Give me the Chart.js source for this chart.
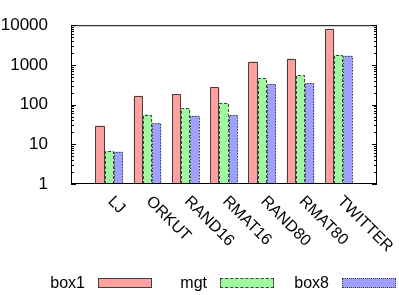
<!DOCTYPE html>
<html>
<head>
<meta charset="utf-8">
<script src="https://cdn.jsdelivr.net/npm/chart.js@4/dist/chart.umd.min.js"></script>
<style>
  body { margin: 0; background: #fff; }
  #wrap { position: relative; width: 399px; height: 295px; }
  #legend {
    position: absolute; left: 40px; top: 274px;
    display: flex; font: 16px "Liberation Sans", Arial, sans-serif; color: #000;
  }
  .item { display: flex; align-items: center; width: 122px; }
  .item .txt { width: 45px; text-align: right; line-height: 18px; }
  .item .sw { width: 52px; height: 8px; margin-left: 13px; border: 1px solid #404040; }
</style>
</head>
<body>
<div id="wrap">
  <canvas id="chart" width="399" height="295"></canvas>
  <div id="legend"></div>
</div>
<script>
// datos (escala log)
const categories = ['LJ', 'ORKUT', 'RAND16', 'RMAT16', 'RAND80', 'RMAT80', 'TWITTER'];
const box1 = [29.5, 166, 184, 270, 1210, 1420, 8100];
const mgt = [6.8, 56, 80, 111, 465, 550, 1810];
const box8 = [6.5, 34, 52, 55, 330, 350, 1690];
const yTicks = [1, 10, 100, 1000, 10000];

// un hueco vacio a cada lado, como en gnuplot
const labels = ['', ...categories, ''];
const pad = arr => [null, ...arr, null];

// bordes de las barras (rayados / punteados)
const barBorders = {
  id: 'barBorders',
  afterDatasetsDraw(chart) {
    const ctx = chart.ctx;
    chart.data.datasets.forEach((ds, i) => {
      const meta = chart.getDatasetMeta(i);
      ctx.save();
      ctx.strokeStyle = '#404040';
      ctx.lineWidth = 1;
      ctx.setLineDash(ds.dash);
      meta.data.forEach((el, j) => {
        if (ds.data[j] == null) return;
        const p = el.getProps(['x', 'y', 'base', 'width'], true);
        const l = Math.round(p.x - p.width / 2) + 0.5;
        const r = Math.round(p.x + p.width / 2) - 0.5;
        const t = Math.round(p.y) + 0.5;
        const b = Math.round(p.base);
        ctx.beginPath();
        ctx.moveTo(l, b);
        ctx.lineTo(l, t);
        ctx.lineTo(r, t);
        ctx.lineTo(r, b);
        ctx.stroke();
      });
      ctx.restore();
    });
  }
};

// marco, marcas hacia dentro y etiquetas rotadas del eje x
const frame = {
  id: 'frame',
  afterDraw(chart) {
    const ctx = chart.ctx;
    const a = chart.chartArea;
    const y = chart.scales.y;
    const x = chart.scales.x;
    ctx.save();
    ctx.strokeStyle = '#000';
    ctx.lineWidth = 1;
    ctx.strokeRect(a.left + 0.5, a.top + 0.5, a.right - a.left - 1, a.bottom - a.top - 1);
    ctx.beginPath();
    for (let k = 0; k < yTicks.length; k++) {
      const v = yTicks[k];
      const py = Math.round(y.getPixelForValue(v)) + 0.5;
      ctx.moveTo(a.left, py); ctx.lineTo(a.left + 5, py);
      ctx.moveTo(a.right, py); ctx.lineTo(a.right - 5, py);
      if (k === yTicks.length - 1) break;
      for (let m = 2; m < 10; m++) {
        const my = Math.round(y.getPixelForValue(v * m)) + 0.5;
        ctx.moveTo(a.left, my); ctx.lineTo(a.left + 3, my);
        ctx.moveTo(a.right, my); ctx.lineTo(a.right - 3, my);
      }
    }
    ctx.stroke();

    ctx.fillStyle = '#000';
    ctx.font = '16px "Liberation Sans", Arial, sans-serif';
    ctx.textAlign = 'left';
    ctx.textBaseline = 'middle';
    categories.forEach((c, i) => {
      const px = x.getPixelForValue(i + 1);
      ctx.save();
      ctx.translate(px + 1, a.bottom + 15);
      ctx.rotate(Math.PI / 4);
      ctx.fillText(c, 0, 0);
      ctx.restore();
    });
    ctx.restore();
  }
};

const chart = new Chart(document.getElementById('chart'), {
  type: 'bar',
  data: {
    labels: labels,
    datasets: [
      { label: 'box1', data: pad(box1), backgroundColor: '#ffa0a0', borderWidth: 0, dash: [], css: 'solid' },
      { label: 'mgt', data: pad(mgt), backgroundColor: '#a0f8a0', borderWidth: 0, dash: [3, 2], css: 'dashed' },
      { label: 'box8', data: pad(box8), backgroundColor: '#a0a0ff', borderWidth: 0, dash: [1.5, 1.5], css: 'dotted' }
    ]
  },
  options: {
    responsive: false,
    animation: false,
    layout: { padding: { top: 8, right: 22, left: 0, bottom: 0 } },
    datasets: { bar: { categoryPercentage: 0.72, barPercentage: 1 } },
    plugins: { legend: { display: false }, tooltip: { enabled: false } },
    scales: {
      x: {
        type: 'category',
        offset: false,
        grid: { display: false },
        border: { display: false },
        ticks: { display: false },
        afterFit: s => { s.height = 111; }
      },
      y: {
        type: 'logarithmic',
        min: 1,
        max: 10000,
        grid: { display: false },
        border: { display: false },
        afterBuildTicks: s => { s.ticks = yTicks.map(v => ({ value: v })); },
        afterFit: s => { s.width = 71; },
        ticks: {
          padding: 15,
          color: '#000',
          font: { family: '"Liberation Sans", Arial, sans-serif', size: 17 },
          callback: v => String(v)
        }
      }
    }
  },
  plugins: [barBorders, frame]
});

// leyenda HTML: texto y luego la muestra, como gnuplot
const legend = document.getElementById('legend');
chart.data.datasets.forEach(ds => {
  const item = document.createElement('div');
  item.className = 'item';
  const txt = document.createElement('span');
  txt.className = 'txt';
  txt.textContent = ds.label;
  const sw = document.createElement('span');
  sw.className = 'sw';
  sw.style.background = ds.backgroundColor;
  sw.style.borderStyle = ds.css;
  item.appendChild(txt);
  item.appendChild(sw);
  legend.appendChild(item);
});
</script>
</body>
</html>
